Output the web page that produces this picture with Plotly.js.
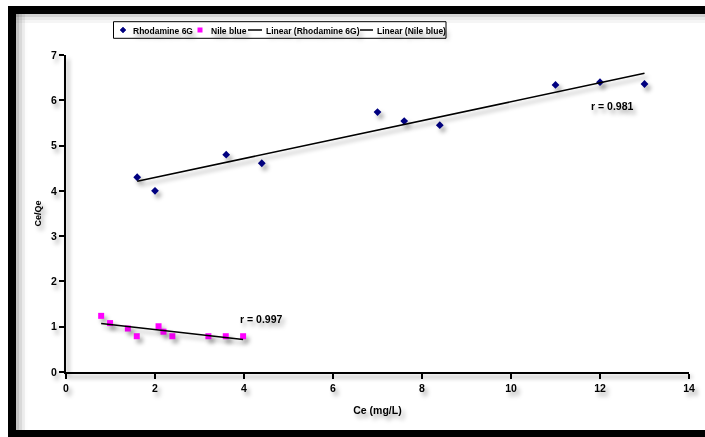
<!DOCTYPE html>
<html><head><meta charset="utf-8">
<script src="https://cdn.plot.ly/plotly-3.0.1.min.js"></script>
<style>
html,body{margin:0;padding:0;background:#fff;overflow:hidden;width:705px;height:437px;}
#wrap{position:relative;width:705px;height:437px;overflow:hidden;background:#fff;}
#chart{position:absolute;left:0;top:0;width:705px;height:437px;}
#chart .scatterlayer .trace, #chart .annotation-text-g, #chart .xtick text, #chart .ytick text,
#chart .g-xtitle, #chart .g-ytitle, #chart .xlines-above, #chart .ylines-above {
  filter: drop-shadow(3px 4px 2px rgba(0,0,0,0.35));
}
</style></head>
<body>
<div id="wrap"><div id="chart"></div></div>
<script>
// ---- data ----
const rhodX = [1.6, 2.0, 3.6, 4.4, 7.0, 7.6, 8.4, 11.0, 12.0, 13.0];
const rhodY = [4.30, 4.00, 4.80, 4.61, 5.74, 5.54, 5.45, 6.34, 6.40, 6.36];
const nileX = [0.79, 0.99, 1.39, 1.59, 2.08, 2.19, 2.39, 3.20, 3.59, 3.98];
const nileY = [1.24, 1.08, 0.96, 0.79, 1.01, 0.89, 0.79, 0.79, 0.79, 0.79];
const seriesNames = ["Rhodamine 6G", "Nile blue", "Linear (Rhodamine 6G)", "Linear (Nile blue)"];
const rLabels = ["r = 0.981", "r = 0.997"];
const rLabelPos = [[12.28, 5.88], [4.38, 1.16]];

function linFit(xs, ys) {
  const n = xs.length;
  const mx = xs.reduce((a, b) => a + b, 0) / n;
  const my = ys.reduce((a, b) => a + b, 0) / n;
  let sxy = 0, sxx = 0;
  for (let i = 0; i < n; i++) { sxy += (xs[i] - mx) * (ys[i] - my); sxx += (xs[i] - mx) ** 2; }
  const m = sxy / sxx, b = my - m * mx;
  const x0 = Math.min(...xs), x1 = Math.max(...xs);
  return { x: [x0, x1], y: [m * x0 + b, m * x1 + b] };
}
const rFit = linFit(rhodX, rhodY);
const nFit = linFit(nileX, nileY);

const FONT = "Arial, 'Liberation Sans', sans-serif";
const traces = [
  { x: rhodX, y: rhodY, mode: "markers", type: "scatter", name: seriesNames[0],
    marker: { symbol: "diamond", size: 6, color: "#000080" } },
  { x: nileX, y: nileY, mode: "markers", type: "scatter", name: seriesNames[1],
    marker: { symbol: "square", size: 6, color: "#FF00FF" } },
  { x: rFit.x, y: rFit.y, mode: "lines", type: "scatter", name: seriesNames[2],
    line: { color: "#000", width: 1.6 } },
  { x: nFit.x, y: nFit.y, mode: "lines", type: "scatter", name: seriesNames[3],
    line: { color: "#000", width: 1.6 } }
];

// plot area geometry (for frame and hand-built legend)
const L = 66, T = 55, W = 623, H = 317;
const RIGHT = 705;
const px = v => (v - L) / W;
const py = v => (T + H - v) / H;
const box = (x0, x1, y0, y1, color, extra) => Object.assign({
  type: "rect", xref: "paper", yref: "paper", x0: px(x0), x1: px(x1), y0: py(y1), y1: py(y0),
  fillcolor: color, line: { width: 0 }, layer: "above" }, extra || {});

const shapes = [
  // legend box (first shape -> gets a drop shadow)
  box(113.5, 446, 21.7, 38.3, "#fff", { line: { color: "#000", width: 1 } }),
  // inner soft shading along the frame (left and top)
  box(16, 19, 14, 430, "rgba(0,0,0,0.22)", { layer: "below" }),
  box(19, 22, 14, 430, "rgba(0,0,0,0.12)", { layer: "below" }),
  box(22, 25, 14, 430, "rgba(0,0,0,0.05)", { layer: "below" }),
  box(16, RIGHT, 14, 17, "rgba(0,0,0,0.18)", { layer: "below" }),
  box(16, RIGHT, 17, 20, "rgba(0,0,0,0.09)", { layer: "below" }),
  box(16, RIGHT, 20, 23, "rgba(0,0,0,0.04)", { layer: "below" }),
  // picture frame
  box(8, RIGHT, 6, 14, "#000"),
  box(8, 16, 6, 437, "#000"),
  box(8, RIGHT, 430, 437, "#000"),
  // legend glyphs
  { type: "path", xref: "paper", yref: "paper", layer: "above", fillcolor: "#000080", line: { color: "#000080", width: 0.5 },
    path: `M ${px(123)} ${py(27)} L ${px(126)} ${py(30)} L ${px(123)} ${py(33)} L ${px(120)} ${py(30)} Z` },
  box(197.5, 202.5, 27.5, 32.5, "#FF00FF"),
  { type: "line", xref: "paper", yref: "paper", layer: "above", line: { color: "#000", width: 1.5 },
    x0: px(248), x1: px(262), y0: py(30), y1: py(30) },
  { type: "line", xref: "paper", yref: "paper", layer: "above", line: { color: "#000", width: 1.5 },
    x0: px(360), x1: px(373), y0: py(30), y1: py(30) }
];

const legFont = { family: FONT, size: 8.5, color: "#000", weight: "bold" };
const legX = [131, 209, 263.5, 374.5];
const annotations = seriesNames.map((t, i) => ({
  xref: "paper", yref: "paper", x: px(legX[i]), y: py(30.5), text: t, showarrow: false,
  xanchor: "left", yanchor: "middle", font: legFont
}));
rLabels.forEach((t, i) => annotations.push({
  x: rLabelPos[i][0], y: rLabelPos[i][1], xref: "x", yref: "y", text: t, showarrow: false,
  font: { family: FONT, size: 10.5, color: "#000", weight: "bold" }
}));

const axisCommon = {
  showline: true, linecolor: "#000", linewidth: 2, ticks: "outside", ticklen: 5, tickwidth: 2,
  tickcolor: "#000", showgrid: false, zeroline: false,
  tickfont: { family: FONT, size: 10.5, color: "#000", weight: "bold" }
};
const layout = {
  width: 705, height: 437,
  margin: { l: L, r: 705 - L - W, t: T, b: 437 - T - H },
  paper_bgcolor: "#fff", plot_bgcolor: "rgba(0,0,0,0)",
  showlegend: false,
  xaxis: Object.assign({}, axisCommon, { range: [0, 14], dtick: 2, tick0: 0,
    title: { text: "Ce (mg/L)", standoff: 14, font: { family: FONT, size: 10.5, color: "#000", weight: "bold" } } }),
  yaxis: Object.assign({}, axisCommon, { range: [0, 7], dtick: 1, tick0: 0,
    title: { text: "Ce/Qe", standoff: 8, font: { family: FONT, size: 9, color: "#000", weight: "bold" } } }),
  shapes: shapes,
  annotations: annotations
};
Plotly.newPlot("chart", traces, layout, { staticPlot: true, displayModeBar: false }).then(() => {
  const p = document.querySelectorAll("#chart .shapelayer path");
  if (p.length) p[0].style.filter = "drop-shadow(3px 4px 3px rgba(0,0,0,0.4))";
});
</script>
</body></html>
